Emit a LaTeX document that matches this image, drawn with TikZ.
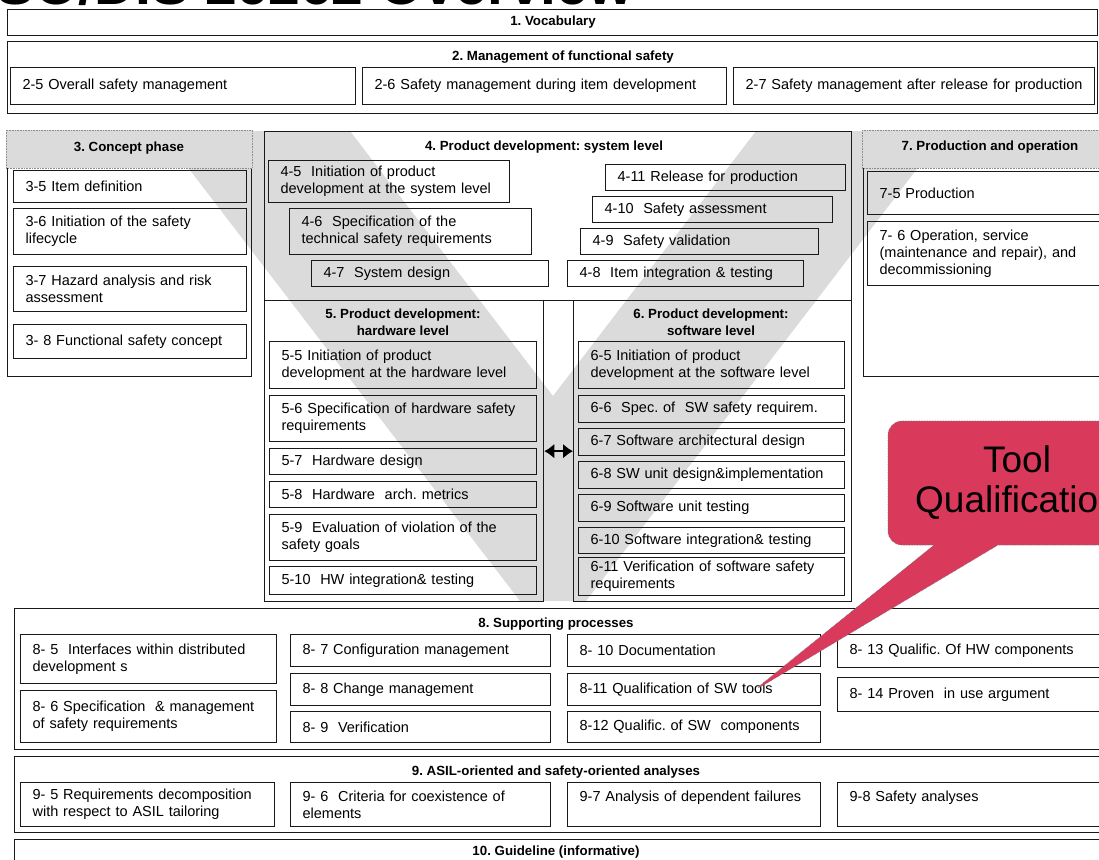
\documentclass[tikz,border=0pt]{standalone}
\usepackage{fontspec}
\setmainfont{Liberation Sans}
\usetikzlibrary{shapes.callouts,arrows.meta}
\frenchspacing

\definecolor{vgray}{RGB}{219,219,219}
\definecolor{callred}{RGB}{217,58,92}

\begin{document}
\begin{tikzpicture}[x=1pt,y=-1pt,
  sec/.style={draw=black!90, line width=1.3pt, anchor=north west, inner sep=0pt},
  item/.style 2 args={draw=black!90, line width=1.2pt, anchor=north west, align=left,
    minimum width=#1, minimum height=#2, text width={#1-24}, inner xsep=12pt, inner ysep=0pt,
    font=\fontsize{14.5}{16.8}\selectfont},
  hdr/.style={font=\bfseries\fontsize{13.3}{17.5}\selectfont, align=center, inner sep=0pt},
  hdrbar/.style={fill=vgray, draw=black!45, densely dotted, line width=.6pt},
  hwsw/.style={line width=2.6pt, {Latex[length=10pt,width=15pt]}-{Latex[length=10pt,width=15pt]}},
  toolcall/.style={rectangle callout, rounded corners=14pt, fill=callred, draw=black!55,
    densely dotted, line width=.6pt, minimum width=258, minimum height=124, inner sep=0pt,
    align=center, font=\fontsize{37}{40}\selectfont, callout pointer width=64pt}]

\useasboundingbox (0,0) rectangle (1099,859);
\clip (0,0) rectangle (1099,859);

% the V
\fill[vgray] (160,131) -- (350,131) -- (553,396) -- (756,131) -- (946,131) -- (586,601) -- (520,601) -- cycle;

\node[anchor=base west, font=\bfseries\fontsize{57}{60}\selectfont, inner sep=0pt] (title) at (-20,5) {ISO/DIS 26262 Overview};

% 1 and 2
\node[sec, minimum width=1090, minimum height=26] (s1) at (7,9) {};
\node[hdr] (h1) at (553,22) {1. Vocabulary};
\node[sec, minimum width=1090, minimum height=72] (s2) at (7,41) {};
\node[hdr] (h2) at (563,57) {2. Management of functional safety};
\node[item={345}{37}] (i25) at (10,67) {2-5 Overall safety management};
\node[item={364}{37}] (i26) at (362,67) {2-6 Safety management during item development};
\node[item={361}{37}] (i27) at (733,67) {2-7 Safety management after release for production};

% 3 concept phase
\node[sec, minimum width=244, minimum height=245] (s3) at (7,131) {};
\filldraw[hdrbar] (6,130) rectangle (252,168);
\node[hdr] (h3) at (129,148) {3. Concept phase};
\node[item={233}{32}] (i35) at (13,170) {3-5 Item definition};
\node[item={233}{46}] (i36) at (13,208) {3-6 Initiation of the safety\\lifecycle};
\node[item={233}{45}] (i37) at (13,266) {3-7 Hazard analysis and risk\\assessment};
\node[item={233}{34}] (i38) at (13,324) {3- 8 Functional safety concept};

% 4 system level
\node[sec, minimum width=587, minimum height=169] (s4) at (264,131) {};
\node[hdr] (h4) at (544,147) {4. Product development: system level};
\node[item={241}{42}] (i45) at (268,160) {4-5 \ Initiation of product\\development at the system level};
\node[item={242}{46}] (i46) at (289,208) {4-6 \ Specification of the\\technical safety requirements};
\node[item={237}{26}] (i47) at (311,260) {4-7 \ System design};
\node[item={240}{26}] (i411) at (605,164) {4-11 Release for production};
\node[item={240}{26}] (i410) at (592,196) {4-10 \ Safety assessment};
\node[item={238}{26}] (i49) at (580,228) {4-9 \ Safety validation};
\node[item={236}{26}] (i48) at (567,260) {4-8 \ Item integration \& testing};

% 7 production
\node[sec, minimum width=240, minimum height=245] (s7) at (863,131) {};
\filldraw[hdrbar] (862,130) rectangle (1102,168);
\node[hdr] (h7) at (990,147) {7. Production and operation};
\node[item={234}{43}] (i75) at (867,171) {7-5 Production};
\node[item={234}{64}] (i76) at (867,221) {7- 6 Operation, service\\(maintenance and repair), and\\decommissioning};

% 5 hardware level
\node[sec, minimum width=279, minimum height=301] (s5) at (264,300) {};
\node[hdr] (h5) at (403,322) {5. Product development:\\hardware level};
\node[item={267}{47}] (i55) at (269,341) {5-5 Initiation of product\\development at the hardware level};
\node[item={267}{46}] (i56) at (269,395) {5-6 Specification of hardware safety\\requirements};
\node[item={267}{26}] (i57) at (269,448) {5-7 \ Hardware design};
\node[item={267}{26}] (i58) at (269,481) {5-8 \ Hardware \ arch. metrics};
\node[item={267}{46}] (i59) at (269,514) {5-9 \ Evaluation of violation of the\\safety goals};
\node[item={267}{28}] (i510) at (269,566) {5-10 \ HW integration\& testing};

% 6 software level
\node[sec, minimum width=278, minimum height=301] (s6) at (573,300) {};
\node[hdr] (h6) at (711,322) {6. Product development:\\software level};
\node[item={266}{47}] (i65) at (578,341) {6-5 Initiation of product\\development at the software level};
\node[item={266}{27}] (i66) at (578,395) {6-6 \ Spec. of \ SW safety requirem.};
\node[item={266}{27}] (i67) at (578,428) {6-7 Software architectural design};
\node[item={266}{27}] (i68) at (578,461) {6-8 SW unit design\&implementation};
\node[item={266}{27}] (i69) at (578,494) {6-9 Software unit testing};
\node[item={266}{26}] (i610) at (578,527) {6-10 Software integration\& testing};
\node[item={266}{38}] (i611) at (578,557) {6-11 Verification of software safety\\requirements};

\draw[hwsw] (s5.east) -- (s6.west);

% 8 supporting processes
\node[sec, minimum width=1090, minimum height=141] (s8) at (14,608) {};
\node[hdr] (h8) at (556,624) {8. Supporting processes};
\node[item={256}{49}] (i85) at (20,634) {8- 5 \ Interfaces within distributed\\development s};
\node[item={256}{52}] (i86) at (20,690) {8- 6 Specification \ \& management\\of safety requirements};
\node[item={260}{32}] (i87) at (290,634) {8- 7 Configuration management};
\node[item={260}{32}] (i88) at (290,673) {8- 8 Change management};
\node[item={260}{31}] (i89) at (290,711) {8- 9 \ Verification};
\node[item={253}{32}] (i810) at (567,634) {8- 10 Documentation};
\node[item={253}{32}] (i811) at (567,673) {8-11 Qualification of SW tools};
\node[item={253}{31}] (i812) at (567,711) {8-12 Qualific. of SW \ components};
\node[item={270}{33}] (i813) at (837,634) {8- 13 Qualific. Of HW components};
\node[item={270}{34}] (i814) at (837,677) {8- 14 Proven \ in use argument};

% 9 analyses
\node[sec, minimum width=1090, minimum height=76] (s9) at (14,756) {};
\node[hdr] (h9) at (556,772) {9. ASIL-oriented and safety-oriented analyses};
\node[item={254}{44}] (i95) at (20,782) {9- 5 Requirements decomposition\\with respect to ASIL tailoring};
\node[item={260}{44}] (i96) at (290,782) {9- 6 \ Criteria for coexistence of\\elements};
\node[item={253}{44}] (i97) at (567,782) {9-7 Analysis of dependent failures\\~};
\node[item={270}{44}] (i98) at (837,782) {9-8 Safety analyses\\~};

% 10 guideline
\node[sec, minimum width=1090, minimum height=30] (s10) at (14,839) {};
\node[hdr] (h10) at (556,852) {10. Guideline (informative)};

% callout
\coordinate (tip) at (752,692);
\node[toolcall, callout absolute pointer=(tip)] (tq) at (1017,483) {Tool\\Qualification};

\end{tikzpicture}
\end{document}
